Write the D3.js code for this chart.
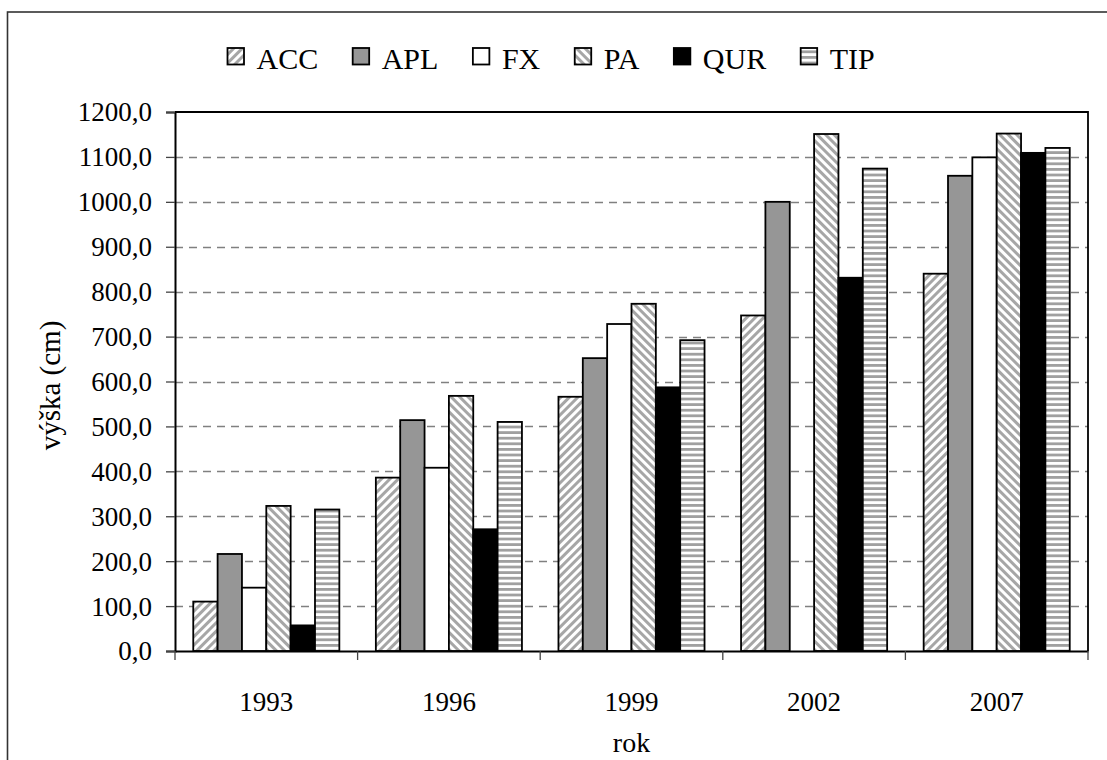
<!DOCTYPE html>
<html><head><meta charset="utf-8">
<script src="https://cdn.jsdelivr.net/npm/d3@7"></script>
<style>
html,body{margin:0;padding:0;background:#fff;}
svg{display:block;}
text{font-family:"Liberation Serif","Times New Roman",Tinos,"DejaVu Serif","Noto Serif",serif;fill:#000;}
</style></head>
<body>
<svg id="chart" width="1107" height="760"></svg>
<script>
const categories = ["1993","1996","1999","2002","2007"];
const seriesNames = ["ACC","APL","FX","PA","QUR","TIP"];
const ACC = [110, 386, 566, 747, 840];
const APL = [216, 514, 652, 1000, 1058];
const FX  = [141, 408, 728, null, 1099];
const PA  = [323, 568, 773, 1151, 1152];
const QUR = [57, 271, 587, 831, 1109];
const TIP = [315, 510, 692, 1074, 1120];
const yTicks = [0,100,200,300,400,500,600,700,800,900,1000,1100,1200];
const seriesValues = [ACC, APL, FX, PA, QUR, TIP];

const svg = d3.select("#chart");
const W = 1107, H = 760;
const m = {left:175, right:1088, top:112, bottom:651};
const FS = 27;

// patterns
const defs = svg.append("defs");
function stripe(id, rot, w) {
  const p = defs.append("pattern").attr("id", id).attr("patternUnits","userSpaceOnUse")
    .attr("width", w).attr("height", w).attr("patternTransform", rot);
  p.append("rect").attr("width", w).attr("height", w).attr("fill", "#fff");
  p.append("rect").attr("x",0).attr("y",0).attr("width", w/2).attr("height", w).attr("fill", "#a6a6a6");
}
stripe("pACC","rotate(45)",6);
stripe("pPA","rotate(-45)",6);
(function(){
  const p = defs.append("pattern").attr("id","pTIP").attr("patternUnits","userSpaceOnUse")
    .attr("width",6).attr("height",5.6);
  p.append("rect").attr("width",6).attr("height",5.6).attr("fill","#fff");
  p.append("rect").attr("y",0).attr("width",6).attr("height",2.8).attr("fill","#a0a0a0");
})();
const fills = {ACC:"url(#pACC)", APL:"#969696", FX:"#ffffff", PA:"url(#pPA)", QUR:"#000000", TIP:"url(#pTIP)"};

// outer border
svg.append("rect").attr("x",7.5).attr("y",12).attr("width",W+20).attr("height",H+20)
  .attr("fill","none").attr("stroke","#333").attr("stroke-width",1.6);

const y = d3.scaleLinear().domain([0,1200]).range([m.bottom, m.top]);
const x0 = d3.scaleBand().domain(categories).range([m.left, m.right]).padding(0);
const x1 = d3.scaleBand().domain(seriesNames).range([x0.bandwidth()*0.1, x0.bandwidth()*0.9]).padding(0);

// gridlines
svg.append("g").selectAll("line").data(yTicks.filter(t => t>0 && t<1200)).join("line")
  .attr("x1", m.left).attr("x2", m.right)
  .attr("y1", d => Math.round(y(d))+0.5).attr("y2", d => Math.round(y(d))+0.5)
  .attr("stroke","#808080").attr("stroke-width",1.3).attr("stroke-dasharray","8,6");

// bars
const groups = svg.append("g").selectAll("g").data(categories).join("g")
  .attr("transform", d => `translate(${x0(d)},0)`);
groups.selectAll("rect").data((c,i) => seriesNames.map((s,j) => ({s, v: seriesValues[j][i]})).filter(d => d.v != null))
  .join("rect")
  .attr("x", d => x1(d.s)).attr("width", x1.bandwidth())
  .attr("y", d => y(d.v)).attr("height", d => y(0) - y(d.v))
  .attr("fill", d => fills[d.s]).attr("stroke","#000").attr("stroke-width",1.8);

// plot frame top/right
svg.append("path").attr("d", `M${m.left},${m.top}H${m.right}V${m.bottom}`)
  .attr("fill","none").attr("stroke","#000").attr("stroke-width",1.8);

// y axis
const yAxis = d3.axisLeft(y).tickValues(yTicks).tickSize(9).tickPadding(14)
  .tickFormat(d => d3.format(".1f")(d).replace(".", ","));
const gy = svg.append("g").attr("transform", `translate(${m.left},0)`).call(yAxis);
gy.attr("font-family", null);
gy.select(".domain").attr("stroke","#000").attr("stroke-width",2);
gy.selectAll(".tick line").attr("stroke","#444").attr("stroke-width",1.3);
gy.selectAll(".tick text").attr("font-size",FS).attr("fill","#000").attr("dy","0.33em");

// x axis
const xAxis = d3.axisBottom(x0).tickSize(0).tickPadding(0);
const gx = svg.append("g").attr("transform", `translate(0,${m.bottom})`).call(xAxis);
gx.attr("font-family", null);
gx.select(".domain").attr("stroke","#000").attr("stroke-width",2);
gx.selectAll(".tick text").attr("font-size",FS).attr("fill","#000")
  .attr("y", 60).attr("dy", 0);
// category separator ticks
svg.append("g").selectAll("line").data(categories.concat(["__end"])).join("line")
  .attr("x1", (d,i) => m.left + i*x0.bandwidth()).attr("x2", (d,i) => m.left + i*x0.bandwidth())
  .attr("y1", m.bottom).attr("y2", m.bottom+9).attr("stroke","#444").attr("stroke-width",1.3);

// axis titles
svg.append("text").attr("x", (m.left+m.right)/2).attr("y", 752).attr("text-anchor","middle")
  .attr("font-size",28).text("rok");
svg.append("text").attr("transform", `translate(60,${(m.top+m.bottom)/2 + 4}) rotate(-90)`)
  .attr("text-anchor","middle").attr("font-size",29).text("výška (cm)");

// legend
const lg = svg.append("g");
let lx = 227;
seriesNames.forEach(s => {
  lg.append("rect").attr("x", lx+0.5).attr("y", 48).attr("width",16.5).attr("height",16.5)
    .attr("fill", fills[s]).attr("stroke","#000").attr("stroke-width",1.8);
  const t = lg.append("text").attr("x", lx+29.5).attr("y", 68.5).attr("font-size",30).text(s);
  lx += 29.5 + t.node().getComputedTextLength() + 34;
});
</script>
</body></html>
